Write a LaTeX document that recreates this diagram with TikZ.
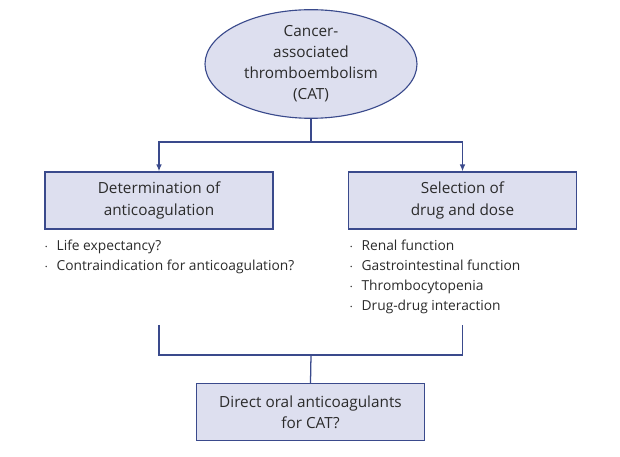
\documentclass[tikz,border=0pt]{standalone}
\usepackage{fontspec}
\setmainfont{Open Sans}
\usepackage{xcolor}
\usetikzlibrary{arrows.meta,positioning,calc,shapes.geometric}
\definecolor{marino}{HTML}{3A4A8C}
\definecolor{lila}{HTML}{DDDFEF}
\definecolor{tinta}{HTML}{2B2B2B}

\begin{document}
\begin{tikzpicture}[x=0.025cm,y=-0.025cm,
  box/.style={draw=marino,fill=lila,line width=0.8pt,minimum width=228*0.025cm,minimum height=57*0.025cm,
    align=center,font=\fontsize{10.9}{15}\selectfont,text=tinta,inner sep=0pt},
  oval/.style={ellipse,draw=marino,fill=lila,line width=0.8pt,minimum width=212*0.025cm,minimum height=98*0.025cm,
    align=center,font=\fontsize{10.9}{15}\selectfont,text=tinta,inner sep=0pt},
  lab/.style={align=left,anchor=north west,font=\fontsize{9.8}{14.2}\selectfont,text=tinta,inner sep=0pt},
  conn/.style={draw=marino,line width=0.9pt},
  flecha/.style={conn,-{Latex[length=5pt,width=4pt]}}]
  \useasboundingbox (0,0) rectangle (620,457);
  % nodes
  \node[oval] (cat) at (311,64) {Cancer-\\associated\\thromboembolism\\(CAT)};
  \node[box] (det) at (159,200.5) {Determination of\\anticoagulation};
  \node[box] (sel) at (462.5,200.5) {Selection of\\drug and dose};
  \node[box] (doac) at (310.5,412) {Direct oral anticoagulants\\for CAT?};
  \node[lab] (listdet) at (44,240) {$\cdot$\hspace{6pt}Life expectancy?\\
    $\cdot$\hspace{6pt}Contraindication for anticoagulation?};
  \node[lab] (listsel) at (349,240) {$\cdot$\hspace{6pt}Renal function\\
    $\cdot$\hspace{6pt}Gastrointestinal function\\
    $\cdot$\hspace{6pt}Thrombocytopenia\\
    $\cdot$\hspace{6pt}Drug-drug interaction};
  % connectors
  \coordinate (split) at (311,142);
  \coordinate (joinl) at (159,325);
  \coordinate (joinr) at (462.5,325);
  \coordinate (join) at (311,355);
  \draw[conn] (cat.south) -- (split);
  \draw[flecha] (split) -| (det.north);
  \draw[flecha] (split) -| (sel.north);
  \draw[conn] (joinl) |- (join) -| (joinr);
  \draw[conn] (join) -- (doac.north);
\end{tikzpicture}
\end{document}
